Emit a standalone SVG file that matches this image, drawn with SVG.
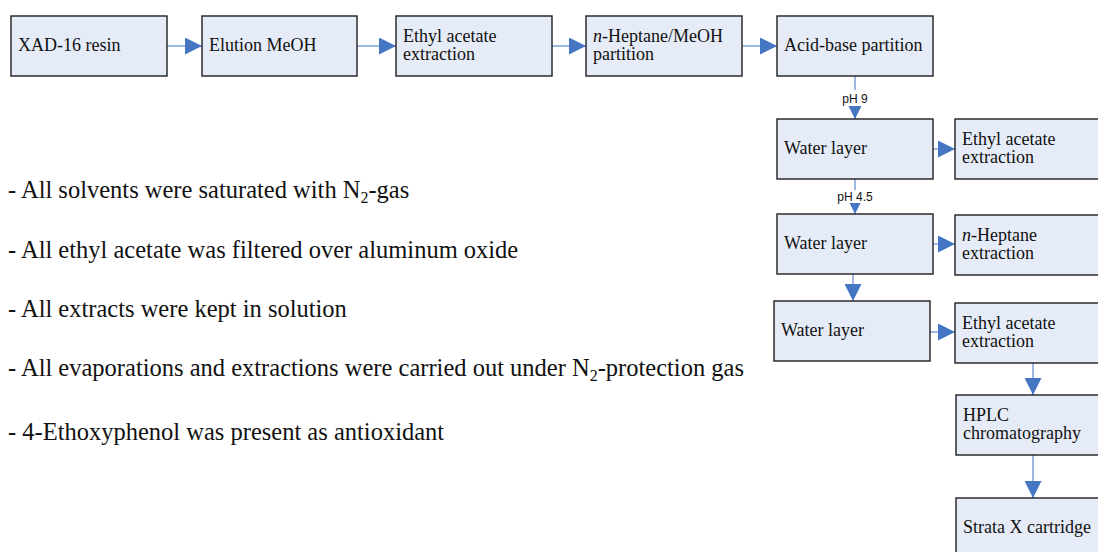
<svg xmlns="http://www.w3.org/2000/svg" width="1098" height="552" viewBox="0 0 1098 552">
<defs>
<style>
.box{fill:#e6ecf7;stroke:#1e1e1e;stroke-width:1.4}
.t{font-family:"Liberation Serif","Times New Roman",serif;font-size:18px;fill:#111}
.lab{font-family:"Liberation Sans",Arial,sans-serif;font-size:12px;fill:#111;text-anchor:middle}
.c{stroke:#7ea2d8;stroke-width:1.5;fill:none}
.ah{fill:#4576c4}
</style>
<marker id="arr" markerUnits="userSpaceOnUse" markerWidth="17" markerHeight="17" viewBox="0 0 17 17" refX="17" refY="8.5" orient="auto">
<path d="M0,0 L17,8.5 L0,17 Z" class="ah"/>
</marker>
</defs>
<rect width="1098" height="552" fill="#fff"/>
<g id="connectors">
<line class="c" x1="167" y1="46" x2="202" y2="46" marker-end="url(#arr)"/>
<line class="c" x1="357" y1="46" x2="396" y2="46" marker-end="url(#arr)"/>
<line class="c" x1="552" y1="46" x2="586" y2="46" marker-end="url(#arr)"/>
<line class="c" x1="742" y1="46" x2="777" y2="46" marker-end="url(#arr)"/>
<line class="c" x1="855" y1="76" x2="855" y2="119" marker-end="url(#arr)"/>
<rect x="838" y="90" width="34" height="16" fill="#fff"/>
<text class="lab" x="855" y="103">pH 9</text>
<line class="c" x1="855" y1="179" x2="855" y2="214" marker-end="url(#arr)"/>
<rect x="834" y="190" width="42" height="13" fill="#fff"/>
<text class="lab" x="855" y="201">pH 4.5</text>
<line class="c" x1="933" y1="149" x2="955" y2="149" marker-end="url(#arr)"/>
<line class="c" x1="933" y1="244" x2="955" y2="244" marker-end="url(#arr)"/>
<line class="c" x1="853" y1="274" x2="853" y2="301" marker-end="url(#arr)"/>
<line class="c" x1="930" y1="332" x2="955" y2="332" marker-end="url(#arr)"/>
<line class="c" x1="1033" y1="363" x2="1033" y2="395" marker-end="url(#arr)"/>
<line class="c" x1="1033" y1="455" x2="1033" y2="498" marker-end="url(#arr)"/>
</g>
<g id="n1"><rect class="box" x="11" y="16" width="156" height="60"/><text class="t" x="18" y="51">XAD-16 resin</text></g>
<g id="n2"><rect class="box" x="202" y="16" width="155" height="60"/><text class="t" x="209" y="51">Elution MeOH</text></g>
<g id="n3"><rect class="box" x="396" y="16" width="156" height="60"/><text class="t" x="403" y="42">Ethyl acetate</text><text class="t" x="403" y="60">extraction</text></g>
<g id="n4"><rect class="box" x="586" y="16" width="156" height="60"/><text class="t" x="593" y="42"><tspan font-style="italic">n</tspan>-Heptane/MeOH</text><text class="t" x="593" y="60">partition</text></g>
<g id="n5"><rect class="box" x="777" y="16" width="156" height="60"/><text class="t" x="784" y="51">Acid-base partition</text></g>
<g id="n6"><rect class="box" x="777" y="119" width="156" height="60"/><text class="t" x="784" y="154">Water layer</text></g>
<g id="n7"><rect class="box" x="955" y="119" width="156" height="60"/><text class="t" x="962" y="145">Ethyl acetate</text><text class="t" x="962" y="163">extraction</text></g>
<g id="n8"><rect class="box" x="777" y="214" width="156" height="60"/><text class="t" x="784" y="249">Water layer</text></g>
<g id="n9"><rect class="box" x="955" y="215" width="156" height="60"/><text class="t" x="962" y="241"><tspan font-style="italic">n</tspan>-Heptane</text><text class="t" x="962" y="259">extraction</text></g>
<g id="n10"><rect class="box" x="774" y="301" width="156" height="60"/><text class="t" x="781" y="336">Water layer</text></g>
<g id="n11"><rect class="box" x="955" y="303" width="156" height="60"/><text class="t" x="962" y="329">Ethyl acetate</text><text class="t" x="962" y="347">extraction</text></g>
<g id="n12"><rect class="box" x="956" y="395" width="156" height="60"/><text class="t" x="963" y="421">HPLC</text><text class="t" x="963" y="439">chromatography</text></g>
<g id="n13"><rect class="box" x="956" y="498" width="156" height="60"/><text class="t" x="963" y="533">Strata X cartridge</text></g>
<g id="notes" font-family="'Liberation Serif', 'Times New Roman', serif" font-size="24.5" fill="#111">
<text x="8" y="198">- All solvents were saturated with N<tspan font-size="16" dy="5">2</tspan><tspan dy="-5">-gas</tspan></text>
<text x="8" y="258">- All ethyl acetate was filtered over aluminum oxide</text>
<text x="8" y="317">- All extracts were kept in solution</text>
<text x="8" y="376">- All evaporations and extractions were carried out under N<tspan font-size="16" dy="5">2</tspan><tspan dy="-5">-protection gas</tspan></text>
<text x="8" y="440">- 4-Ethoxyphenol was present as antioxidant</text>
</g>
</svg>
